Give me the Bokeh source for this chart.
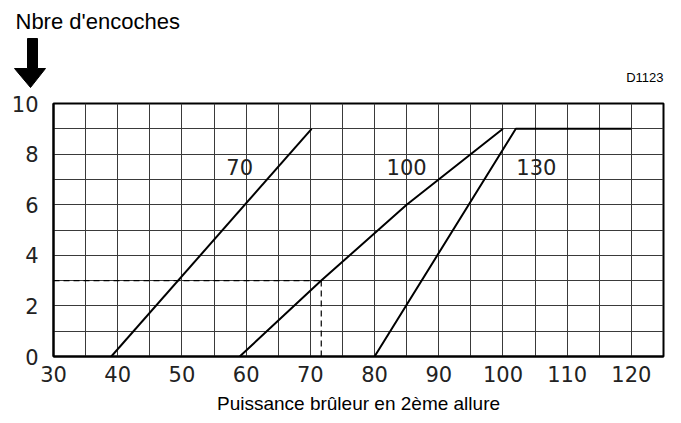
from bokeh.plotting import figure
from bokeh.layouts import column
from bokeh.models import FixedTicker, Range1d, Label, ColumnDataSource
from bokeh.core.properties import value
from bokeh.embed import file_html
from bokeh.resources import INLINE

# ---- data ----
curve_70_x = [39, 70.2]
curve_70_y = [0, 9]
curve_100_x = [59, 71.7, 85, 100]
curve_100_y = [0, 3, 6, 9]
curve_130_x = [80, 102, 120]
curve_130_y = [0, 9, 9]
curve_names = ["70", "100", "130"]
curve_label_x = [59, 85, 105.2]
curve_label_y = [7.5, 7.5, 7.5]
example_x = 71.7
example_y = 3
x_ticks = [30, 40, 50, 60, 70, 80, 90, 100, 110, 120]
y_ticks = [0, 2, 4, 6, 8, 10]
x_grid = list(range(30, 126, 5))
y_grid = list(range(0, 11, 1))

XMIN, XMAX, YMIN, YMAX = 30, 125, 0, 10
W = 673
HEAD_H = 88
BL, BR, BT, BB = 53, 10, 15, 59
H = BT + 254 + BB

TICK_FONT = "DejaVu Sans"

# ---- header strip (title text, arrow, drawing reference), laid out in pixels ----
head = figure(width=W, height=HEAD_H, output_backend="svg", toolbar_location=None,
              x_range=Range1d(0, W), y_range=Range1d(HEAD_H, 0),
              x_axis_location=None, y_axis_location=None,
              min_border_left=0, min_border_right=0, min_border_top=0, min_border_bottom=0)
try:
    head.frame_align = False
except Exception:
    pass
head.grid.visible = False
head.outline_line_color = None
head.background_fill_color = "white"
head.border_fill_color = "white"
arrow_px = [27, 37, 37, 45, 30, 14, 27]
arrow_py = [38, 38, 68, 68, 87, 68, 68]
head.patch(arrow_px, arrow_py, fill_color="black", line_color="black", line_width=1)
head.add_layout(Label(x=15, y=21, text="Nbre d'encoches", text_font="Liberation Sans",
                      text_font_size="22px", text_color="black", text_baseline="alphabetic"))
head.add_layout(Label(x=663, y=77, text="D1123", text_font="Liberation Sans",
                      text_font_size="13px", text_color="black", text_align="right",
                      text_baseline="alphabetic"))

# ---- main chart ----
p = figure(width=W, height=H, output_backend="svg", toolbar_location=None,
           x_range=Range1d(XMIN, XMAX), y_range=Range1d(YMIN, YMAX),
           min_border_left=BL, min_border_right=BR, min_border_top=BT, min_border_bottom=BB)
try:
    p.frame_align = False
except Exception:
    pass
p.background_fill_color = "white"
p.border_fill_color = "white"
p.outline_line_color = "black"
p.outline_line_width = 2

p.xgrid.ticker = FixedTicker(ticks=x_grid)
p.ygrid.ticker = FixedTicker(ticks=y_grid)
for g in (p.xgrid, p.ygrid):
    g.grid_line_color = "#3a3a3a"
    g.grid_line_width = 1

p.xaxis.ticker = FixedTicker(ticks=x_ticks)
p.yaxis.ticker = FixedTicker(ticks=y_ticks)
for ax in (p.xaxis, p.yaxis):
    ax.axis_line_color = "black"
    ax.axis_line_width = 2
    ax.major_tick_line_color = None
    ax.minor_tick_line_color = None
    ax.major_label_text_font = TICK_FONT
    ax.major_label_text_font_size = "21px"
    ax.major_label_text_color = "#222222"
p.xaxis.major_label_standoff = 3
p.yaxis.major_label_standoff = 9
p.yaxis.major_label_text_align = "center"
p.xaxis.axis_label = "Puissance brûleur en 2ème allure"
p.xaxis.axis_label_text_font = "Liberation Sans"
p.xaxis.axis_label_text_font_style = "normal"
p.xaxis.axis_label_text_font_size = "19px"
p.xaxis.axis_label_text_color = "black"
p.xaxis.axis_label_standoff = 8

for xs, ys in ((curve_70_x, curve_70_y), (curve_100_x, curve_100_y), (curve_130_x, curve_130_y)):
    p.line(xs, ys, line_color="black", line_width=2)

p.line([XMIN, example_x], [example_y, example_y], line_color="black", line_width=1.2, line_dash="6 4")
p.line([example_x, example_x], [YMIN, example_y], line_color="black", line_width=1.2, line_dash="6 4")

src = ColumnDataSource(dict(x=curve_label_x, y=curve_label_y, t=curve_names))
p.text(x="x", y="y", text="t", source=src, text_font=value(TICK_FONT), text_font_size="21px",
       text_align="center", text_baseline="middle", text_color="#222222")

layout = column(head, p, spacing=0)
open("out.html", "w").write(file_html(layout, INLINE))
